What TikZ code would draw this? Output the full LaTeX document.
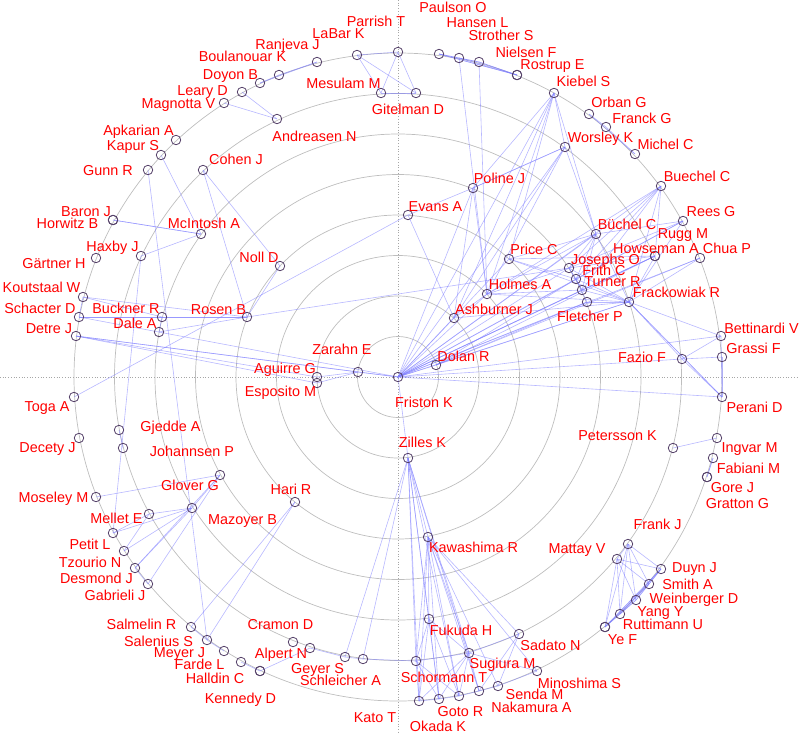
\documentclass[tikz,border=0pt]{standalone}
\usepackage{fontspec}
\setmainfont{Liberation Sans}
\usetikzlibrary{backgrounds}
\definecolor{edgeblue}{RGB}{125,125,255}
\definecolor{ringgray}{RGB}{190,190,190}
\definecolor{nodeline}{RGB}{85,65,105}
\tikzset{
  author/.style={circle, draw=nodeline, line width=0.8pt, minimum size=9.5pt, inner sep=0},
  lbl/.style={text=red, anchor=base, inner sep=0, font=\fontsize{14.4}{16}\selectfont},
  edge/.style={draw=edgeblue, line width=0.6pt, opacity=0.55},
  ring/.style={draw=ringgray, line width=0.7pt},
  axis/.style={draw=gray!70, dotted, line width=0.7pt}
}
\begin{document}
\begin{tikzpicture}[x=1pt, y=-1pt]
  \useasboundingbox (0,0) rectangle (799,734);

  % rings and axes
  \begin{scope}[on background layer]
    \coordinate (hub) at (398,377);
    \foreach \r in {1,...,8}
      \draw[ring] (hub) circle[radius=40.5*\r pt];
    \draw[axis] (0,377) -- (799,377);
    \draw[axis] (398,0) -- (398,734);
  \end{scope}

  % centre
  \node[author] (fri) at (398,377) {}; \node[lbl] (fri-l) at (424,407) {Friston K};
  \node[author] (zar) at (358,372) {}; \node[lbl] (zar-l) at (342,354) {Zarahn E};
  \node[author] (agu) at (317,377) {}; \node[lbl] (agu-l) at (285,373) {Aguirre G};
  \node[author] (esp) at (317,383) {}; \node[lbl] (esp-l) at (280.5,396) {Esposito M};
  \node[author] (dol) at (436,365) {}; \node[lbl] (dol-l) at (463.5,361) {Dolan R};
  \node[author] (ash) at (454,318) {}; \node[lbl] (ash-l) at (494,314) {Ashburner J};
  \node[author] (hol) at (487,294) {}; \node[lbl] (hol-l) at (520,289) {Holmes A};
  \node[author] (pri) at (509,259) {}; \node[lbl] (pri-l) at (534,254) {Price C};
  \node[author] (jos) at (569,268) {}; \node[lbl] (jos-l) at (605.5,264) {Josephs O};
  \node[author] (frt) at (576,279) {}; \node[lbl] (frt-l) at (604,275) {Frith C};
  \node[author] (tur) at (582,290) {}; \node[lbl] (tur-l) at (612.5,286) {Turner R};
  \node[author] (fle) at (587,302) {}; \node[lbl] (fle-l) at (590,321) {Fletcher P};
  \node[author] (fra) at (629,302) {}; \node[lbl] (fra-l) at (676.5,297) {Frackowiak R};
  \node[author] (buc) at (596,234) {}; \node[lbl] (buc-l) at (627,229) {Büchel C};
  \node[author] (bue) at (661,186) {}; \node[lbl] (bue-l) at (697,181) {Buechel C};
  \node[author] (ree) at (683,221) {}; \node[lbl] (ree-l) at (711,216) {Rees G};
  \node[author] (rug) at (655,256) {}; \node[lbl] (rug-l) at (683,238) {Rugg M};
  \node[author] (how) at (655,256) {}; \node[lbl] (how-l) at (656,253) {Howseman A};
  \node[author] (chu) at (700,258) {}; \node[lbl] (chu-l) at (727,253) {Chua P};
  \node[author] (faz) at (682,359) {}; \node[lbl] (faz-l) at (642,362) {Fazio F};
  \node[author] (bet) at (721,336) {}; \node[lbl] (bet-l) at (761.5,333) {Bettinardi V};
  \node[author] (gra) at (722,357) {}; \node[lbl] (gra-l) at (753.5,353) {Grassi F};
  \node[author] (per) at (722,397) {}; \node[lbl] (per-l) at (754.5,412) {Perani D};
  \node[author] (pet) at (673,448) {}; \node[lbl] (pet-l) at (617.5,440) {Petersson K};
  \node[author] (ing) at (717,438) {}; \node[lbl] (ing-l) at (749.5,452) {Ingvar M};
  \node[author] (fab) at (713,458) {}; \node[lbl] (fab-l) at (748.5,473) {Fabiani M};
  \node[author] (gor) at (707,477) {}; \node[lbl] (gor-l) at (732.5,492) {Gore J};
  \node[author] (grt) at (707,477) {}; \node[lbl] (grt-l) at (737.5,508) {Gratton G};

  % lower right
  \node[author] (frk) at (628,544) {}; \node[lbl] (frk-l) at (657.5,529) {Frank J};
  \node[author] (mat) at (617,559) {}; \node[lbl] (mat-l) at (577,553) {Mattay V};
  \node[author] (duy) at (661,569) {}; \node[lbl] (duy-l) at (694.5,572) {Duyn J};
  \node[author] (smi) at (649,584) {}; \node[lbl] (smi-l) at (687.5,589) {Smith A};
  \node[author] (wei) at (636,600) {}; \node[lbl] (wei-l) at (694,603) {Weinberger D};
  \node[author] (yan) at (620,614) {}; \node[lbl] (yan-l) at (660.5,616) {Yang Y};
  \node[author] (rut) at (605,627) {}; \node[lbl] (rut-l) at (663,629) {Ruttimann U};
  \node[author] (yef) at (605,627) {}; \node[lbl] (yef-l) at (622.5,644) {Ye F};

  % bottom
  \node[author] (zil) at (408,458) {}; \node[lbl] (zil-l) at (422.5,447) {Zilles K};
  \node[author] (kaw) at (428,537) {}; \node[lbl] (kaw-l) at (473.5,552) {Kawashima R};
  \node[author] (fuk) at (429,619) {}; \node[lbl] (fuk-l) at (461,635) {Fukuda H};
  \node[author] (sad) at (519,634) {}; \node[lbl] (sad-l) at (550.5,650) {Sadato N};
  \node[author] (sug) at (469,653) {}; \node[lbl] (sug-l) at (502.5,668) {Sugiura M};
  \node[author] (min) at (537,671) {}; \node[lbl] (min-l) at (579.5,688) {Minoshima S};
  \node[author] (sch) at (416,661) {}; \node[lbl] (sch-l) at (444,682) {Schormann T};
  \node[author] (sen) at (498,686) {}; \node[lbl] (sen-l) at (534.5,699) {Senda M};
  \node[author] (nak) at (479,691) {}; \node[lbl] (nak-l) at (531.5,712) {Nakamura A};
  \node[author] (kat) at (459,696) {}; \node[lbl] (kat-l) at (375,722) {Kato T};
  \node[author] (got) at (439,699) {}; \node[lbl] (got-l) at (460.5,716) {Goto R};
  \node[author] (oka) at (419,701) {}; \node[lbl] (oka-l) at (438,731) {Okada K};
  \node[author] (sle) at (363,659) {}; \node[lbl] (sle-l) at (340.5,685) {Schleicher A};
  \node[author] (gey) at (345,657) {}; \node[lbl] (gey-l) at (317.5,673) {Geyer S};
  \node[author] (alp) at (310,648) {}; \node[lbl] (alp-l) at (281,658) {Alpert N};
  \node[author] (cra) at (293,642) {}; \node[lbl] (cra-l) at (280.5,629) {Cramon D};
  \node[author] (hal) at (260,671) {}; \node[lbl] (hal-l) at (215,683) {Halldin C};
  \node[author] (ken) at (260,671) {}; \node[lbl] (ken-l) at (240.5,703) {Kennedy D};
  \node[author] (far) at (241,662) {}; \node[lbl] (far-l) at (199.5,669) {Farde L};
  \node[author] (mey) at (224,651) {}; \node[lbl] (mey-l) at (179.5,657) {Meyer J};
  \node[author] (sls) at (207,640) {}; \node[lbl] (sls-l) at (158.5,646) {Salenius S};
  \node[author] (slm) at (191,627) {}; \node[lbl] (slm-l) at (141.5,629) {Salmelin R};

  % lower left
  \node[author] (har) at (295,502) {}; \node[lbl] (har-l) at (291,494) {Hari R};
  \node[author] (maz) at (192,508) {}; \node[lbl] (maz-l) at (242.5,524) {Mazoyer B};
  \node[author] (glo) at (220,475) {}; \node[lbl] (glo-l) at (190,490) {Glover G};
  \node[author] (mos) at (96,497) {};  \node[lbl] (mos-l) at (53.5,502) {Moseley M};
  \node[author] (mel) at (149,514) {}; \node[lbl] (mel-l) at (116.5,523) {Mellet E};
  \node[author] (ptl) at (113,533) {}; \node[lbl] (ptl-l) at (90,549) {Petit L};
  \node[author] (tzo) at (124,551) {}; \node[lbl] (tzo-l) at (90,567) {Tzourio N};
  \node[author] (des) at (135,568) {}; \node[lbl] (des-l) at (96.5,583) {Desmond J};
  \node[author] (gab) at (148,584) {}; \node[lbl] (gab-l) at (115,600) {Gabrieli J};
  \node[author] (gje) at (119,430) {}; \node[lbl] (gje-l) at (170.5,431) {Gjedde A};
  \node[author] (joh) at (123,448) {}; \node[lbl] (joh-l) at (192,456) {Johannsen P};
  \node[author] (dec) at (79,438) {};  \node[lbl] (dec-l) at (47.5,452) {Decety J};
  \node[author] (tog) at (74,397) {};  \node[lbl] (tog-l) at (47,411) {Toga A};

  % upper left
  \node[author] (hax) at (141,256) {}; \node[lbl] (hax-l) at (112.5,251) {Haxby J};
  \node[author] (gar) at (96,258) {};  \node[lbl] (gar-l) at (54,268) {Gärtner H};
  \node[author] (nol) at (280,266) {}; \node[lbl] (nol-l) at (259,262) {Noll D};
  \node[author] (kou) at (83,297) {};  \node[lbl] (kou-l) at (41.5,292) {Koutstaal W};
  \node[author] (sct) at (79,317) {};  \node[lbl] (sct-l) at (40,313) {Schacter D};
  \node[author] (buk) at (162,317) {}; \node[lbl] (buk-l) at (126,313) {Buckner R};
  \node[author] (ros) at (247,317) {}; \node[lbl] (ros-l) at (218.5,314) {Rosen B};
  \node[author] (dal) at (159,332) {}; \node[lbl] (dal-l) at (135,328) {Dale A};
  \node[author] (det) at (76,336) {};  \node[lbl] (det-l) at (49,333) {Detre J};
  \node[author] (rnj) at (317,62) {};  \node[lbl] (rnj-l) at (287.5,49) {Ranjeva J};
  \node[author] (lab) at (357,55) {};  \node[lbl] (lab-l) at (338.5,38) {LaBar K};
  \node[author] (bou) at (279,75) {};  \node[lbl] (bou-l) at (242.5,61) {Boulanouar K};
  \node[author] (doy) at (260,83) {};  \node[lbl] (doy-l) at (230.5,79) {Doyon B};
  \node[author] (lea) at (242,92) {};  \node[lbl] (lea-l) at (202.5,95) {Leary D};
  \node[author] (mag) at (224,103) {}; \node[lbl] (mag-l) at (178.5,108) {Magnotta V};
  \node[author] (anr) at (277,119) {}; \node[lbl] (anr-l) at (314.5,141) {Andreasen N};
  \node[author] (apk) at (176,140) {}; \node[lbl] (apk-l) at (138.5,135) {Apkarian A};
  \node[author] (kap) at (161,155) {}; \node[lbl] (kap-l) at (133,150) {Kapur S};
  \node[author] (gun) at (148,170) {}; \node[lbl] (gun-l) at (108,175) {Gunn R};
  \node[author] (coh) at (203,170) {}; \node[lbl] (coh-l) at (236,164) {Cohen J};
  \node[author] (bar) at (113,220) {}; \node[lbl] (bar-l) at (86,216) {Baron J};
  \node[author] (hor) at (113,220) {}; \node[lbl] (hor-l) at (67.5,228) {Horwitz B};
  \node[author] (mci) at (201,234) {}; \node[lbl] (mci-l) at (204,228) {McIntosh A};

  % top
  \node[author] (par) at (398,52) {};  \node[lbl] (par-l) at (376,26) {Parrish T};
  \node[author] (mes) at (381,93) {};  \node[lbl] (mes-l) at (343.5,88) {Mesulam M};
  \node[author] (git) at (416,93) {};  \node[lbl] (git-l) at (408,114) {Gitelman D};
  \node[author] (pau) at (439,54) {};  \node[lbl] (pau-l) at (453,12) {Paulson O};
  \node[author] (han) at (459,58) {};  \node[lbl] (han-l) at (477.5,27) {Hansen L};
  \node[author] (str) at (479,62) {};  \node[lbl] (str-l) at (501,40) {Strother S};
  \node[author] (nie) at (517,75) {};  \node[lbl] (nie-l) at (526,57) {Nielsen F};
  \node[author] (rst) at (517,75) {};  \node[lbl] (rst-l) at (552.5,69) {Rostrup E};
  \node[author] (kie) at (554,93) {};  \node[lbl] (kie-l) at (583.5,86) {Kiebel S};
  \node[author] (orb) at (589,114) {}; \node[lbl] (orb-l) at (619,107) {Orban G};
  \node[author] (frn) at (606,127) {}; \node[lbl] (frn-l) at (642,123) {Franck G};
  \node[author] (mic) at (635,154) {}; \node[lbl] (mic-l) at (665.5,149) {Michel C};
  \node[author] (wor) at (565,147) {}; \node[lbl] (wor-l) at (600.5,142) {Worsley K};
  \node[author] (pol) at (473,188) {}; \node[lbl] (pol-l) at (499.5,183) {Poline J};
  \node[author] (eva) at (408,215) {}; \node[lbl] (eva-l) at (435.5,211) {Evans A};

  % co-author links
  \begin{scope}[on background layer]
    \foreach \a/\b in {fri/dol, fri/ash, fri/hol, fri/pri, fri/jos, fri/frt, fri/tur, fri/fle,
        fri/fra, fri/buc, fri/bue, fri/ree, fri/rug, fri/how, fri/chu, fri/bet, fri/per, fri/faz,
        fri/pol, fri/wor, fri/kie, fri/zil, fri/zar, fri/sct, fri/det,
        hol/pol, hol/wor, hol/kie, hol/han, hol/str, hol/fra, hol/buc, hol/bue, hol/tur, hol/ash, hol/jos,
        ash/kie, ash/pol, ash/eva, ash/wor, ash/fra,
        eva/pol, pol/wor, pol/wor, pol/kie, wor/kie, wor/buc, kie/buc, kie/pri,
        pri/fra, pri/buc, pri/how, pri/frt,
        buc/jos, buc/tur, buc/frt, buc/fra, buc/ree,
        bue/jos, bue/tur, bue/frt, bue/fra, bue/how,
        ree/frt, ree/fra, ree/jos,
        dol/frt, dol/fle, dol/fra, dol/chu, dol/rug,
        frt/fle, frt/fra, frt/jos, frt/tur, jos/tur, jos/how, jos/fra,
        tur/fra, tur/how, fle/fra, how/fra, chu/fra,
        fra/per, fra/per, fra/faz, fra/bet, faz/per, faz/bet, faz/gra, bet/per, gra/per}
      \draw[edge] (\a.center) -- (\b.center);
    \foreach \a/\b in {det/zar, det/agu, det/esp, agu/zar, esp/zar,
        kou/ros, kou/buk, kou/sct, sct/buk, sct/ros, buk/ros, buk/dal, dal/ros, ros/jos, ros/nol,
        coh/nol, coh/ros, tog/eva, kap/mci, bar/mci, hor/mci, hax/mci, hax/ptl, gje/joh, gun/sls,
        rnj/bou, rnj/doy, bou/doy, mag/anr, lea/anr,
        lab/par, lab/mes, lab/git, par/mes, par/git, mes/git,
        pau/han, pau/str, pau/rst, han/str, han/rst, str/rst, pau/nie, str/nie,
        orb/frn, frn/mic, orb/mic,
        mos/glo, glo/maz, glo/des, glo/gab, maz/mel, maz/ptl, maz/tzo, maz/des, mel/ptl, mel/tzo, des/gab,
        har/slm, har/sls, slm/sls, sls/mey, far/hal, ken/alp, alp/gey, gey/sle, sle/sch, gey/zil, sle/zil}
      \draw[edge] (\a.center) -- (\b.center);
    \foreach \a/\b in {zil/sch, zil/kaw, zil/fuk, zil/sug, zil/oka, zil/got, zil/kat, zil/nak,
        kaw/fuk, kaw/sug, kaw/sad, kaw/min, kaw/sen, kaw/oka, kaw/got, kaw/kat, kaw/nak, kaw/sch,
        fuk/sch, fuk/oka, fuk/got, fuk/sug, fuk/kat, sch/oka, sch/sug, sch/got, sch/kat,
        sug/oka, sug/got, sug/kat, sug/sad, sug/min, sug/nak, sad/sen, sad/nak,
        oka/got, got/kat, kat/nak, nak/sen, sen/min, pet/ing, fab/gor, fab/grt,
        frk/mat, frk/duy, frk/smi, frk/wei, frk/yan, frk/yef,
        mat/duy, mat/smi, mat/wei, mat/yan, mat/yef,
        duy/smi, duy/wei, duy/yan, duy/yef, duy/rut,
        smi/wei, smi/yan, smi/yef, wei/yan, wei/yef, yan/yef}
      \draw[edge] (\a.center) -- (\b.center);
  \end{scope}
\end{tikzpicture}
\end{document}
